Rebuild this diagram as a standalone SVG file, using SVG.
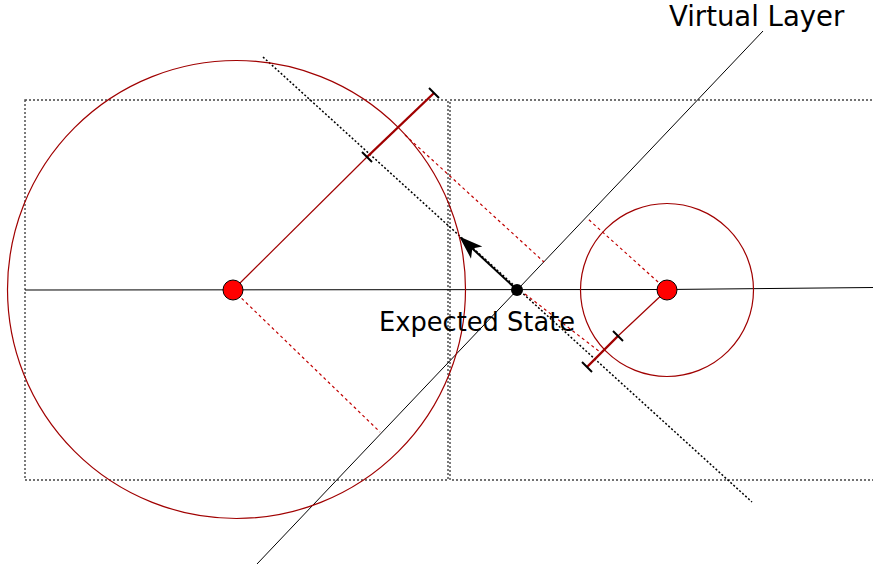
<svg xmlns="http://www.w3.org/2000/svg" width="873" height="570" viewBox="0 0 873 570">
<style>
.frame{fill:none;stroke:#444;stroke-width:1.4;stroke-dasharray:2,2}
.axis{fill:none;stroke:#000;stroke-width:1}
.proj{fill:none;stroke:#000;stroke-width:1.5;stroke-dasharray:2,2}
.circ{fill:none;stroke:#a00000;stroke-width:1.2}
.rl{fill:none;stroke:#a00000;stroke-width:1.2}
.rt{fill:none;stroke:#a00000;stroke-width:2.4}
.rd{fill:none;stroke:#c00000;stroke-width:1.2;stroke-dasharray:3,3}
.tick{fill:none;stroke:#000;stroke-width:2}
.pt{fill:#ff0000;stroke:#000;stroke-width:1}
.lbl{font-family:"DejaVu Sans",sans-serif;fill:#000}
</style>
<defs>
<marker id="ah" viewBox="0 0 20 16" refX="18" refY="8" markerWidth="24" markerHeight="19" markerUnits="userSpaceOnUse" orient="auto">
<path d="M0,1 L20,8 L0,15 L5,8 Z" fill="#000"/>
</marker>
</defs>
<g id="frames">
<rect class="frame" x="25" y="100" width="423" height="380"/>
<rect class="frame" x="450" y="100" width="430" height="380"/>
</g>
<g id="connectors">
<polyline class="axis" points="25,290 667,289.5 873,287.5"/>
<line class="axis" x1="257" y1="564" x2="763" y2="31"/>
<line class="proj" x1="263" y1="57" x2="752" y2="502"/>
<line class="rd" x1="233" y1="290" x2="380" y2="432"/>
<line class="rd" x1="405" y1="135" x2="544" y2="262"/>
<line class="rd" x1="525" y1="294" x2="600" y2="352"/>
<line class="rd" x1="667" y1="290" x2="588" y2="219"/>
<line class="rl" x1="233" y1="290" x2="367" y2="157"/>
<line class="rt" x1="367" y1="157" x2="434" y2="93"/>
<line class="rl" x1="667" y1="290" x2="618" y2="336"/>
<line class="rt" x1="618" y1="336" x2="587" y2="367"/>
<line class="tick" x1="362" y1="152" x2="372" y2="162"/>
<line class="tick" x1="429" y1="88" x2="439" y2="98"/>
<line class="tick" x1="613" y1="331" x2="623" y2="341"/>
<line class="tick" x1="582" y1="362" x2="592" y2="372"/>
<line x1="517" y1="290" x2="461" y2="238" stroke="#000" stroke-width="2" marker-end="url(#ah)"/>
</g>
<g id="left-circle">
<circle class="circ" cx="236.5" cy="289.5" r="229"/>
<circle class="pt" cx="233" cy="290" r="10"/>
</g>
<g id="right-circle">
<circle class="circ" cx="667" cy="290" r="86.5"/>
<circle class="pt" cx="667" cy="290" r="10"/>
</g>
<g id="expected-state">
<circle cx="517" cy="290" r="6" fill="#000"/>
<text class="lbl" x="379" y="331" font-size="25.7">Expected State</text>
</g>
<g id="virtual-layer">
<text class="lbl" x="669" y="26" font-size="27.5">Virtual Layer</text>
</g>
</svg>
